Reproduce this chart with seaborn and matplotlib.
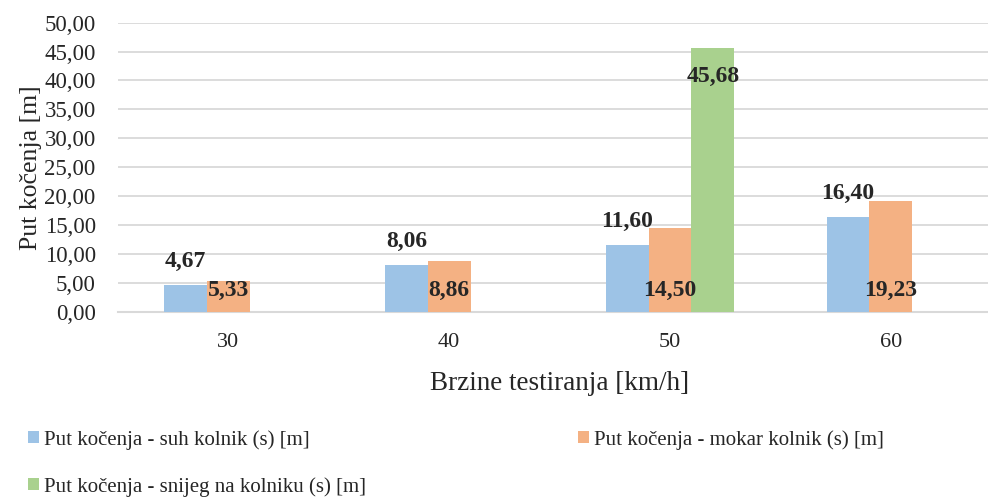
import pandas as pd
import matplotlib.pyplot as plt
import seaborn as sns
import numpy as np
from matplotlib.ticker import FuncFormatter, MultipleLocator

# ==============================================================================
# Podaci (očitano s grafa)
# ==============================================================================
brzine = ["30", "40", "50", "60"]
suh = [4.67, 8.06, 11.60, 16.40]
mokar = [5.33, 8.86, 14.50, 19.23]
snijeg = [np.nan, np.nan, 45.68, np.nan]

serije = [
    "Put kočenja - suh kolnik (s) [m]",
    "Put kočenja - mokar kolnik (s) [m]",
    "Put kočenja - snijeg na kolniku (s) [m]",
]
colors = ["#9DC3E6", "#F4B183", "#A9D18E"]

df = pd.DataFrame({
    "brzina": brzine * 3,
    "serija": [serije[0]] * 4 + [serije[1]] * 4 + [serije[2]] * 4,
    "put": suh + mokar + snijeg,
}).dropna()

# ==============================================================================
# Stil
# ==============================================================================
sns.set_style("white")
plt.rcParams['font.family'] = ['Liberation Serif', 'DejaVu Serif']

fig = plt.figure(figsize=(9.88, 4.99), dpi=100)
ax = fig.add_axes([0.1194, 0.3747, 0.894, 0.58])

sns.barplot(data=df, x="brzina", y="put", hue="serija", order=brzine,
            hue_order=serije, palette=colors, width=0.58, saturation=1,
            linewidth=0, errorbar=None, legend=True, ax=ax, zorder=3)

ax.set_ylim(0, 50)
ax.yaxis.set_major_locator(MultipleLocator(5))
ax.yaxis.set_major_formatter(FuncFormatter(lambda v, p: f"{v:.2f}".replace(".", ",")))
ax.grid(axis='y', color='#D9D9D9', linewidth=1.3, zorder=0)
ax.set_axisbelow(True)
for s in ['top', 'right', 'left']:
    ax.spines[s].set_visible(False)
ax.spines['bottom'].set_color('#D9D9D9')
ax.spines['bottom'].set_linewidth(1.5)
ax.tick_params(axis='y', length=0, pad=16, labelsize=16.5)
ax.tick_params(axis='x', length=0, pad=15, labelsize=16)

ax.set_xlabel("Brzine testiranja [km/h]", fontsize=19.5, labelpad=14)
ax.set_ylabel("Put kočenja [m]", fontsize=18.5, labelpad=2)

# ==============================================================================
# Oznake vrijednosti (ručni položaji kao u Excelu)
# ==============================================================================
for i, cont in enumerate(ax.containers):
    for bar in cont:
        h = bar.get_height()
        if np.isnan(h) or h == 0:
            continue
        x = bar.get_x() + bar.get_width() / 2
        txt = f"{h:.2f}".replace(".", ",")
        if i == 0:
            ax.annotate(txt, (x, h), xytext=(0, 13), textcoords='offset points',
                        ha='center', va='baseline', fontsize=17, fontweight='bold')
        elif i == 1:
            ax.text(x, 2.8, txt, ha='center', va='baseline', fontsize=17,
                    fontweight='bold', zorder=5)
        else:
            ax.annotate(txt, (x, h), xytext=(0, -24.5), textcoords='offset points',
                        ha='center', va='baseline', fontsize=17, fontweight='bold')

# Legenda (redoslijed kao u originalu: red po red)
handles, labels = ax.get_legend_handles_labels()
ax.get_legend().remove()
order = [0, 2, 1]
fig.legend([handles[k] for k in order], [labels[k] for k in order],
           loc='upper left', bbox_to_anchor=(0.02, 0.155), bbox_transform=fig.transFigure,
           ncol=2, frameon=False, prop={'family': 'Liberation Serif', 'size': 15},
           handlelength=0.5, handleheight=0.5,
           handletextpad=0.25, columnspacing=10.2, labelspacing=1.3, borderaxespad=0)

plt.savefig("out.png", dpi=100)
